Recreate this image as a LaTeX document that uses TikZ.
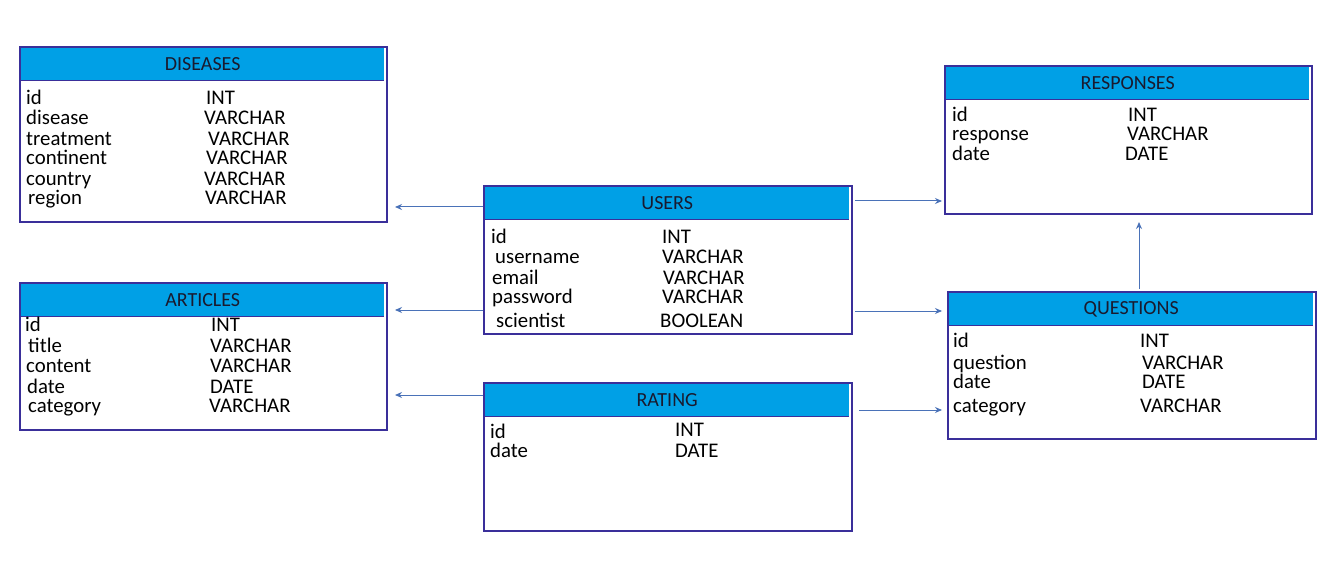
\documentclass[tikz,border=0pt]{standalone}
\usepackage{fontspec}
\setmainfont{Carlito}
\usetikzlibrary{arrows.meta}
\definecolor{bord}{HTML}{3A2F9A}
\definecolor{head}{HTML}{00A0E6}
\definecolor{arr}{HTML}{4A72B8}
\definecolor{ttl}{HTML}{1A1A2E}
\tikzset{
  tbox/.style={draw=bord, line width=2pt, fill=white, inner sep=0pt, anchor=north west},
  thead/.style={fill=head, inner sep=0pt, anchor=north west, minimum height=32pt},
  ttitle/.style={inner sep=0pt, font=\fontsize{20}{20}\selectfont, text=ttl},
  fld/.style={anchor=base west, inner sep=0pt, text height=11pt, text depth=2pt, font=\fontsize{20.8}{20.8}\selectfont},
  conn/.style={draw=arr, line width=1pt, -{Stealth[length=7pt,width=6pt]}}
}
\newcommand{\mktable}[7]{%
  \node[tbox, minimum width=#4pt, minimum height=#5pt] (#1) at (#2,#3) {};
  \node[thead, minimum width=#4pt-4pt] (#1h) at ([xshift=2pt,yshift=-2pt]#1.north west) {};
  \node[ttitle] (#1t) at (#1h.center) {#6};
  \draw[bord, line width=1.5pt] (#1h.south west) -- (#1h.south east);
}
\begin{document}
\begin{tikzpicture}[x=1pt,y=-1pt]
\useasboundingbox[fill=white] (0,0) rectangle (1338,569);

% DISEASES
\mktable{dis}{19}{46}{367}{175}{DISEASES}{}
\node[fld] (dis1) at (26,105) {id};
\node[fld] (dis1t) at (206,105) {INT};
\node[fld] (dis2) at (26,125) {disease};
\node[fld] (dis2t) at (204,125) {VARCHAR};
\node[fld] (dis3) at (26,146) {treatment};
\node[fld] (dis3t) at (208,146) {VARCHAR};
\node[fld] (dis4) at (26,165) {continent};
\node[fld] (dis4t) at (206,165) {VARCHAR};
\node[fld] (dis5) at (26,186) {country};
\node[fld] (dis5t) at (204,186) {VARCHAR};
\node[fld] (dis6) at (28,205) {region};
\node[fld] (dis6t) at (205,205) {VARCHAR};

% ARTICLES
\mktable{art}{19}{282}{367}{147}{ARTICLES}{}
\node[fld] (art1) at (25,331) {id};
\node[fld] (art1t) at (211,331) {INT};
\node[fld] (art2) at (28,352) {title};
\node[fld] (art2t) at (210,352) {VARCHAR};
\node[fld] (art3) at (26,372) {content};
\node[fld] (art3t) at (210,372) {VARCHAR};
\node[fld] (art4) at (27,393) {date};
\node[fld] (art4t) at (210,393) {DATE};
\node[fld] (art5) at (28,412) {category};
\node[fld] (art5t) at (209,412) {VARCHAR};

% USERS
\mktable{usr}{483}{185}{368}{148}{USERS}{}
\node[fld] (usr1) at (491,244) {id};
\node[fld] (usr1t) at (662,244) {INT};
\node[fld] (usr2) at (495,264) {username};
\node[fld] (usr2t) at (662,264) {VARCHAR};
\node[fld] (usr3) at (492,284) {email};
\node[fld] (usr3t) at (663,284) {VARCHAR};
\node[fld] (usr4) at (492,303) {password};
\node[fld] (usr4t) at (662,303) {VARCHAR};
\node[fld] (usr5) at (496,327) {scientist};
\node[fld] (usr5t) at (660,327) {BOOLEAN};

% RATING
\mktable{rat}{483}{382}{368}{148}{RATING}{}
\node[fld] (rat1) at (490,438) {id};
\node[fld] (rat1t) at (675,436) {INT};
\node[fld] (rat2) at (490,457) {date};
\node[fld] (rat2t) at (675,457) {DATE};

% RESPONSES
\mktable{res}{944}{65}{367}{148}{RESPONSES}{}
\node[fld] (res1) at (952,122) {id};
\node[fld] (res1t) at (1128,122) {INT};
\node[fld] (res2) at (952,141) {response};
\node[fld] (res2t) at (1127,141) {VARCHAR};
\node[fld] (res3) at (952,161) {date};
\node[fld] (res3t) at (1125,161) {DATE};

% QUESTIONS
\mktable{que}{947}{291}{368}{147}{QUESTIONS}{}
\node[fld] (que1) at (953,347) {id};
\node[fld] (que1t) at (1140,347) {INT};
\node[fld] (que2) at (953,369) {question};
\node[fld] (que2t) at (1142,369) {VARCHAR};
\node[fld] (que3) at (953,388) {date};
\node[fld] (que3t) at (1142,388) {DATE};
\node[fld] (que4) at (953,412) {category};
\node[fld] (que4t) at (1140,412) {VARCHAR};

% connectors
\draw[conn] ([yshift=53pt]usr.west) coordinate (a1) -- ([xshift=7pt]a1 -| dis.east);
\draw[conn] ([yshift=-50pt]usr.west) coordinate (a2) -- ([xshift=7pt]a2 -| art.east);
\draw[conn] ([yshift=62pt]rat.west) coordinate (a3) -- ([xshift=7pt]a3 -| art.east);
\draw[conn] ([xshift=2pt,yshift=59pt]usr.east) coordinate (a4) -- ([xshift=-2pt]a4 -| res.west);
\draw[conn] ([xshift=2pt,yshift=-51pt]usr.east) coordinate (a5) -- ([xshift=-5pt]a5 -| que.west);
\draw[conn] ([xshift=6pt,yshift=47pt]rat.east) coordinate (a6) -- ([xshift=-5pt]a6 -| que.west);
\draw[conn] ([xshift=7pt,yshift=2pt]que.north) coordinate (a7) -- ([yshift=-7pt]a7 |- res.south);
\end{tikzpicture}
\end{document}
